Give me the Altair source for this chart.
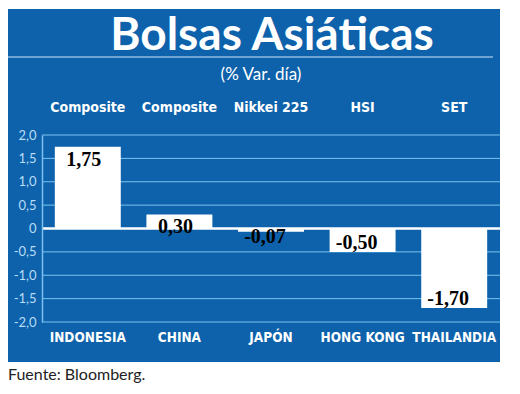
import altair as alt
import pandas as pd

countries = ["INDONESIA", "CHINA", "JAPÓN", "HONG KONG", "THAILANDIA"]
indices = ["Composite", "Composite", "Nikkei 225", "HSI", "SET"]
values = [1.75, 0.30, -0.07, -0.50, -1.70]
y_ticks = [2.0, 1.5, 1.0, 0.5, 0.0, -0.5, -1.0, -1.5, -2.0]

BLUE = "#0d62ab"
GRID = "#7cc2ee"
W, H = 458, 187

df = pd.DataFrame({"pais": countries, "indice": indices, "valor": values})
ticks = pd.DataFrame({"t": y_ticks})
one = alt.Data(values=[{}])

xs = alt.X("pais:N", sort=countries,
           scale=alt.Scale(paddingInner=0.28, paddingOuter=0.14),
           axis=alt.Axis(title=None, domain=False, ticks=False, labelAngle=0,
                         labelPadding=8, labelFont="DejaVu Sans Condensed",
                         labelFontWeight="bold", labelFontSize=13.5,
                         labelColor="white", zindex=1, labelOverlap=False))
yscale = alt.Scale(domain=[-2, 2], nice=False, zero=False)
yaxis = alt.Axis(title=None, values=y_ticks, grid=False, ticks=False,
                 domainColor=GRID, domainWidth=1.5, labelPadding=6,
                 labelFont="Lato", labelFontSize=13, labelColor="#b8ddf7",
                 labelOverlap=False, labelFlush=False,
                 labelExpr="datum.value == 0 ? '0' : (datum.value < 0 ? '-' : '') + replace(format(abs(datum.value), '.1f'), '.', ',')",
                 zindex=1)

panel = alt.Chart(one).mark_rect(color=BLUE).encode(
    x=alt.value(-34), x2=alt.value(458), y=alt.value(-126), y2=alt.value(227))

title_line = alt.Chart(one).mark_rule(color="#cfe8fb", strokeWidth=1).encode(
    x=alt.value(-34), x2=alt.value(451), y=alt.value(-78))

title = alt.Chart(one).mark_text(
    text="Bolsas Asiáticas", font="Lato", fontWeight="bold", fontSize=46,
    color="white", align="center", baseline="alphabetic").encode(
    x=alt.value(230), y=alt.value(-85))

subtitle = alt.Chart(one).mark_text(
    text="(% Var. día)", font="Lato", fontSize=17, color="white",
    align="center", baseline="middle").encode(x=alt.value(219), y=alt.value(-60))

footer = alt.Chart(one).mark_text(
    text="Fuente: Bloomberg.", font="Lato", fontSize=16, color="#222222",
    align="left", baseline="middle").encode(x=alt.value(-34), y=alt.value(240))

grid = alt.Chart(ticks).mark_rule(color=GRID, strokeWidth=1).encode(
    y=alt.Y("t:Q", scale=yscale, axis=yaxis),
    x=alt.value(0), x2=alt.value(W))

zero = alt.Chart(one).mark_rule(color="white", strokeWidth=2.5).encode(
    y=alt.Y(datum=0, scale=yscale, axis=yaxis), x=alt.value(0), x2=alt.value(W))

bars = alt.Chart(df).mark_bar(color="white").encode(
    x=xs,
    y=alt.Y("valor:Q", scale=yscale, axis=yaxis),
    y2=alt.datum(0))

base_lbl = alt.Chart(df).transform_calculate(
    lbl="(datum.valor < 0 ? '-' : '') + replace(format(abs(datum.valor), '.2f'), '.', ',')",
    ly="datum.valor < 0 ? min(datum.valor, -0.37) : datum.valor")

pos_lbl = base_lbl.transform_filter("datum.valor >= 0").mark_text(
    font="Liberation Serif", fontWeight="bold", fontSize=20, color="black",
    baseline="top", dy=3, dx=-4).encode(
    x=alt.X("pais:N", sort=countries), y=alt.Y("ly:Q", scale=yscale, axis=yaxis), text="lbl:N")

neg_lbl = base_lbl.transform_filter("datum.valor < 0").mark_text(
    font="Liberation Serif", fontWeight="bold", fontSize=20, color="black",
    baseline="alphabetic", dy=-3, dx=-6).encode(
    x=alt.X("pais:N", sort=countries), y=alt.Y("ly:Q", scale=yscale, axis=yaxis), text="lbl:N")

top_names = alt.Chart(df).mark_text(
    font="DejaVu Sans Condensed", fontWeight="bold", fontSize=14, color="white",
    baseline="middle").encode(
    x=alt.X("pais:N", sort=countries), text="indice:N", y=alt.value(-27))

chart = alt.layer(
    panel, title_line, title, subtitle, footer, grid, zero, bars,
    pos_lbl, neg_lbl, top_names
).properties(
    width=W, height=H,
    padding={"left": 42, "top": 135, "right": 20, "bottom": 72},
    autosize=alt.AutoSizeParams(type="none"),
    background="white",
).configure_view(stroke=None)

chart.save("out.html", embed_options={"renderer": "svg", "actions": False})
